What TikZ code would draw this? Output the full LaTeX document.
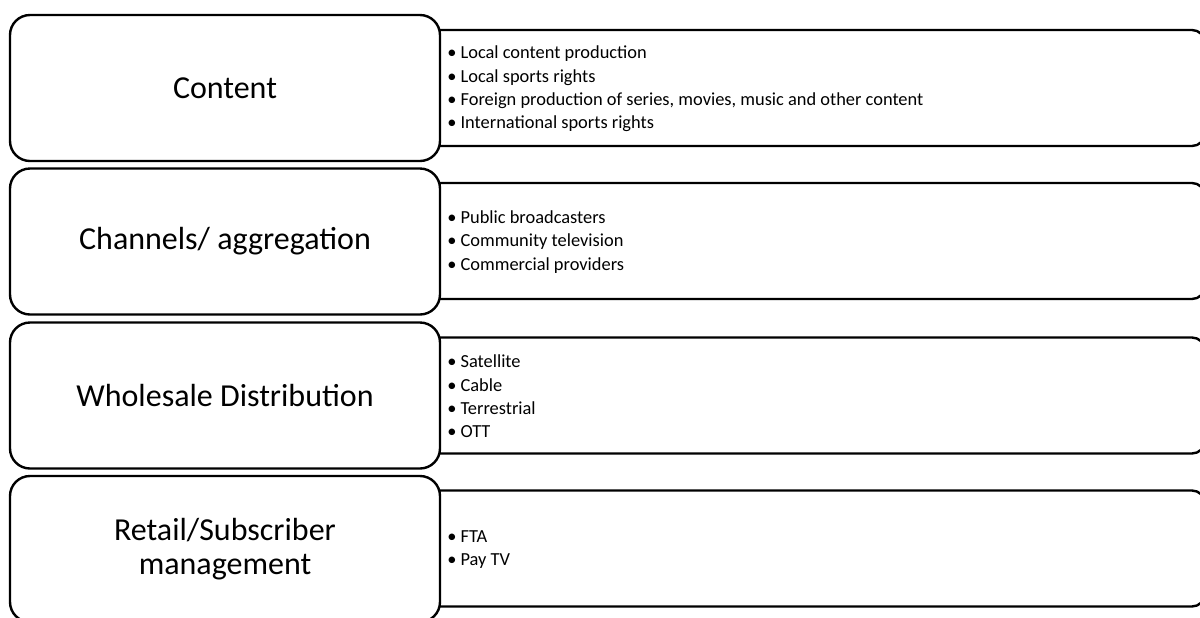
\documentclass[tikz,border=0pt]{standalone}
\usepackage{fontspec}
\setmainfont{Carlito}
\newcommand\bulitem{\makebox[6.6pt][l]{•}}
\begin{document}
\begin{tikzpicture}[x=0.5pt,y=-0.5pt,
  stagebox/.style={draw=black, line width=1.2pt, fill=white, rounded corners=10pt,
    minimum width=215pt, minimum height=73pt, inner sep=0pt, align=center,
    font=\fontsize{16}{17}\selectfont},
  detailbox/.style={draw=black, line width=1.2pt, fill=white, rounded corners=6.5pt,
    minimum width=402.5pt, minimum height=58pt, inner sep=0pt},
  detailtext/.style={anchor=west, inner sep=0pt, align=left,
    font=\fontsize{9.2}{11.67}\selectfont}]
\useasboundingbox (0,0) rectangle (1200,617);
\clip (0,0) rectangle (1200,617);
% detail boxes (drawn first, left part hidden below stage boxes)
\node[detailbox] (d1) at (802.5,88) {};
\node[detailbox] (d2) at (802.5,241) {};
\node[detailbox] (d3) at (802.5,395.5) {};
\node[detailbox] (d4) at (802.5,548.5) {};
% stage boxes
\node[stagebox] (s1) at (225,88) {Content};
\node[stagebox] (s2) at (225,241.5) {Channels/ aggregation};
\node[stagebox] (s3) at (225,395.5) {Wholesale Distribution};
\node[stagebox] (s4) at (225,549) {Retail/Subscriber\\management};
% detail texts
\node[detailtext] (t1) at (447,89) {\bulitem Local content production\\\bulitem Local sports rights\\\bulitem Foreign production of series, movies, music and other content\\\bulitem International sports rights};
\node[detailtext] (t2) at (447,242) {\bulitem Public broadcasters\\\bulitem Community television\\\bulitem Commercial providers};
\node[detailtext] (t3) at (447,396.5) {\bulitem Satellite\\\bulitem Cable\\\bulitem Terrestrial\\\bulitem OTT};
\node[detailtext] (t4) at (447,549.5) {\bulitem FTA\\\bulitem Pay TV};
\end{tikzpicture}
\end{document}
